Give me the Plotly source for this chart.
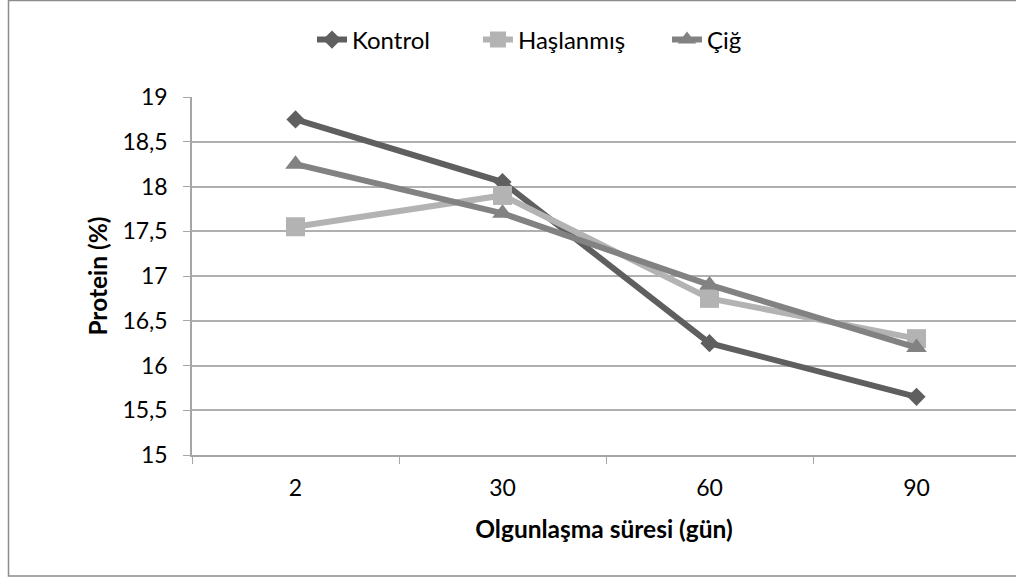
import plotly.graph_objects as go

categories = ["2", "30", "60", "90"]
kontrol = [18.75, 18.05, 16.25, 15.65]
haslanmis = [17.55, 17.9, 16.75, 16.3]
cig = [18.25, 17.7, 16.9, 16.2]
y_ticks = [15, 15.5, 16, 16.5, 17, 17.5, 18, 18.5, 19]
y_tick_labels = ["15", "15,5", "16", "16,5", "17", "17,5", "18", "18,5", "19"]
series_names = ["Kontrol", "Haşlanmış", "Çiğ"]

FONT = "Lato"
FS = 23
FS_LEG = 24
FS_TITLE = 24.5
W, H = 1016, 579
L, R, T, B = 192, 0, 97, 124
NB = "\u00a0"

fig = go.Figure()
fig.add_trace(go.Scatter(x=categories, y=kontrol, name=series_names[0] + NB * 7, mode="lines+markers",
                         line=dict(color="#5f5f5f", width=6),
                         marker=dict(symbol="diamond", size=14, color="#5f5f5f")))
fig.add_trace(go.Scatter(x=categories, y=haslanmis, name=series_names[1] + NB * 6, mode="lines+markers",
                         line=dict(color="#b3b3b3", width=6),
                         marker=dict(symbol="square", size=19, color="#b3b3b3")))
fig.add_trace(go.Scatter(x=categories, y=cig, name=series_names[2], mode="lines+markers",
                         line=dict(color="#828282", width=6),
                         marker=dict(symbol="triangle-up", size=18, color="#828282")))

pw = W - L - R
ph = H - T - B
cat_w = 207.0
x_end = -0.5 + pw / cat_w

def px(x):
    return (x - L) / pw

def py(y):
    return (H - B - y) / ph

fig.add_shape(type="rect", xref="paper", yref="paper",
              x0=px(8.5), x1=px(1030), y0=py(576), y1=py(0.5),
              line=dict(color="#8c8c8c", width=1.5), fillcolor="rgba(0,0,0,0)", layer="below")

fig.update_layout(
    width=W, height=H,
    margin=dict(l=L, r=R, t=T, b=B, pad=0),
    paper_bgcolor="white", plot_bgcolor="white",
    font=dict(family=FONT, color="#000000"),
    showlegend=True,
    legend=dict(orientation="h", x=px(312), xanchor="left", y=py(40), yanchor="middle",
                font=dict(size=FS_LEG, family=FONT), tracegroupgap=0,
                bgcolor="rgba(0,0,0,0)"),
    xaxis=dict(type="category", range=[-0.5, x_end], showgrid=False,
               showline=True, linecolor="#a6a6a6", linewidth=1.5,
               ticks="outside", tickson="boundaries", ticklen=7, tickcolor="#a6a6a6",
               ticklabelstandoff=12,
               tickfont=dict(size=FS, family=FONT),
               title=dict(text="<b>Olgunlaşma süresi (gün)</b>", font=dict(size=FS_TITLE, family=FONT), standoff=21),
               fixedrange=True),
    yaxis=dict(range=[15, 19], tickvals=y_ticks, ticktext=y_tick_labels,
               showgrid=True, gridcolor="#b0b0b0", gridwidth=1.5,
               showline=True, linecolor="#a6a6a6", linewidth=1.5,
               ticks="outside", ticklen=7, tickcolor="#a6a6a6",
               ticklabelstandoff=11,
               tickfont=dict(size=FS, family=FONT), zeroline=False,
               title=dict(text="<b>Protein (%)</b>", font=dict(size=FS_TITLE, family=FONT), standoff=8),
               fixedrange=True),
)

fig.write_html("out.html")
